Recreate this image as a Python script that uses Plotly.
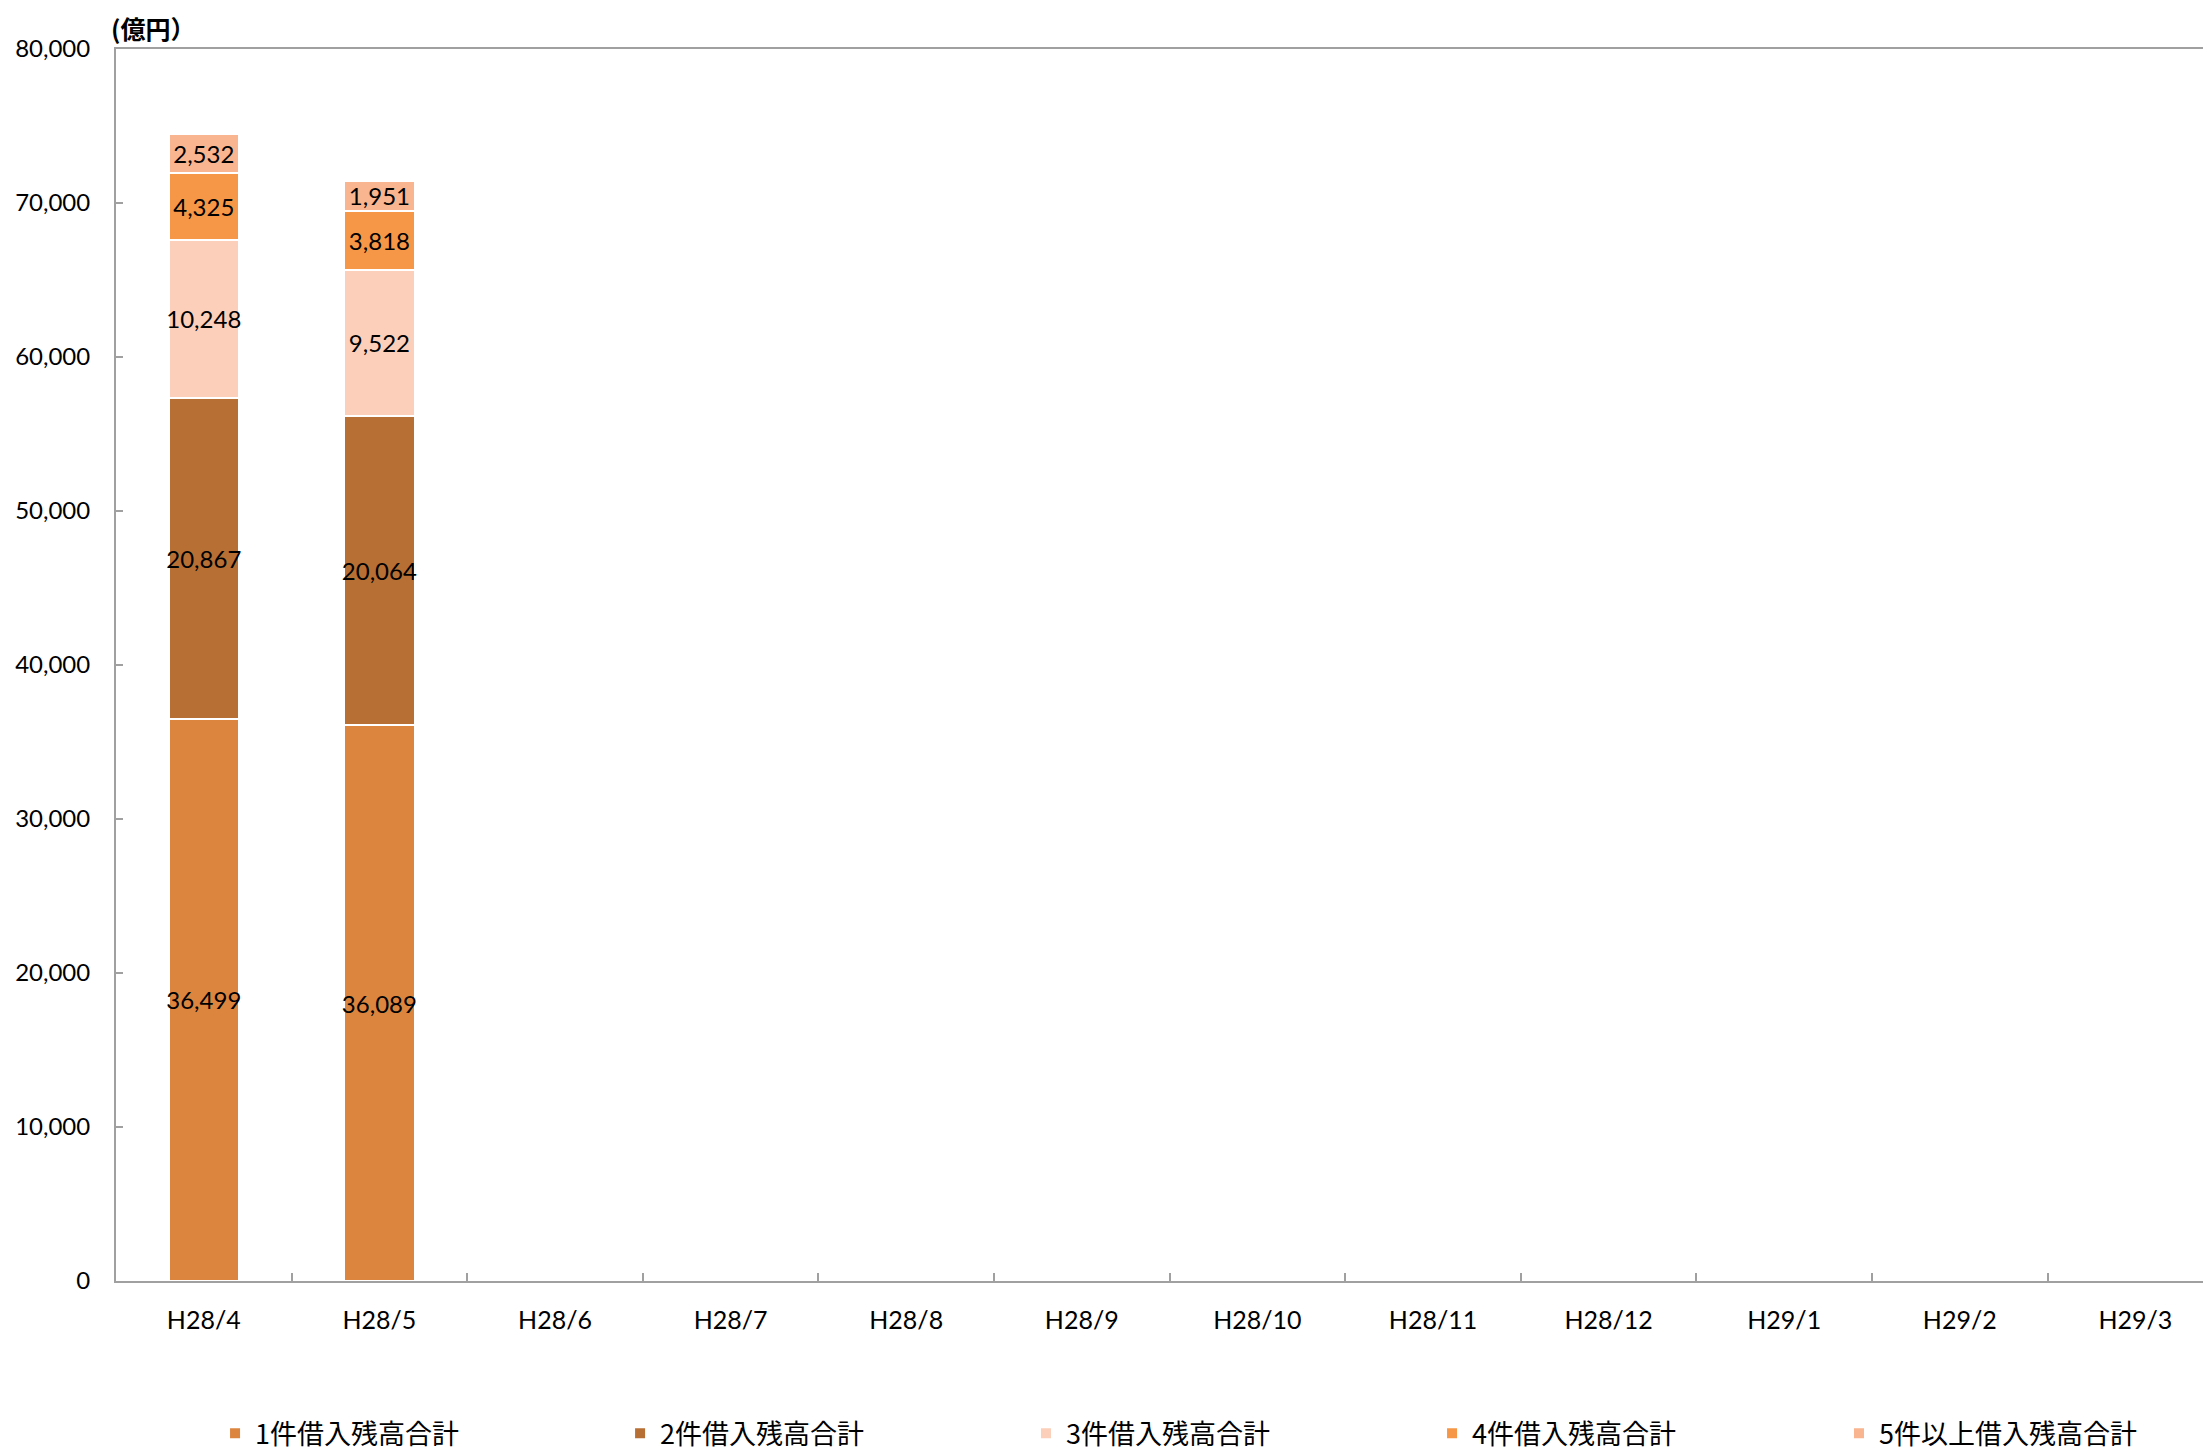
import plotly.graph_objects as go

categories = ["H28/4", "H28/5", "H28/6", "H28/7", "H28/8", "H28/9",
              "H28/10", "H28/11", "H28/12", "H29/1", "H29/2", "H29/3"]
series_names = ["1件借入残高合計", "2件借入残高合計", "3件借入残高合計",
                "4件借入残高合計", "5件以上借入残高合計"]
s1 = [36499, 36089] + [None] * 10
s2 = [20867, 20064] + [None] * 10
s3 = [10248, 9522] + [None] * 10
s4 = [4325, 3818] + [None] * 10
s5 = [2532, 1951] + [None] * 10
y_ticks = [0, 10000, 20000, 30000, 40000, 50000, 60000, 70000, 80000]

colors = ["#DC853F", "#B86F34", "#FBCFB9", "#F69747", "#F8B58F"]
legend_ids = ["legend", "legend2", "legend3", "legend4", "legend5"]
legend_x = [0.0471, 0.2397, 0.4327, 0.6258, 0.8193]

fig = go.Figure()
for name, vals, col, lid in zip(series_names, [s1, s2, s3, s4, s5], colors, legend_ids):
    fig.add_trace(go.Bar(
        x=categories, y=vals, name=name, legend=lid,
        marker=dict(color=col, line=dict(color="white", width=2)),
        text=[f"{v:,}" if v is not None else "" for v in vals],
        textposition="inside", insidetextanchor="middle",
        textfont=dict(family="Lato", size=24, color="black"),
        textangle=0,
    ))

legend_style = dict(orientation="h", xanchor="left", y=-0.124, yanchor="middle",
                    font=dict(family="Noto Sans CJK JP", size=27, color="black"),
                    bgcolor="rgba(0,0,0,0)", borderwidth=0)
legends = {}
for lid, lx in zip(legend_ids, legend_x):
    legends[lid] = dict(legend_style, x=lx)

fig.update_layout(
    width=2211, height=1451,
    margin=dict(l=108, r=0, t=41, b=178),
    barmode="stack", bargap=0.6,
    plot_bgcolor="white", paper_bgcolor="white",
    uniformtext=dict(mode="show", minsize=24),
    showlegend=True,
    annotations=[dict(text="<b>(億円）</b>", xref="paper", yref="paper", x=0, y=1,
                      xanchor="left", yanchor="middle", xshift=-7, yshift=21, showarrow=False,
                      font=dict(family="Noto Sans CJK JP", size=25, color="black"))],
    **legends,
)
fig.update_xaxes(
    type="category", range=[-0.5, 11.476], automargin=False,
    showline=True, linecolor="#A0A0A0", linewidth=2, mirror=True,
    ticks="inside", tickson="boundaries", ticklen=8, tickcolor="#A0A0A0", tickwidth=2,
    tickfont=dict(family="Lato", size=25, color="black"),
    ticklabelstandoff=16, showgrid=False, zeroline=False,
)
fig.update_yaxes(
    range=[0, 80000], tickvals=y_ticks, tickformat=",", automargin=False,
    showline=True, linecolor="#A0A0A0", linewidth=2,
    ticks="inside", ticklen=7, tickcolor="#A0A0A0", tickwidth=2,
    tickfont=dict(family="Lato", size=24, color="black"),
    ticklabelstandoff=19, showgrid=False, zeroline=False,
)

fig.write_html("out.html")
